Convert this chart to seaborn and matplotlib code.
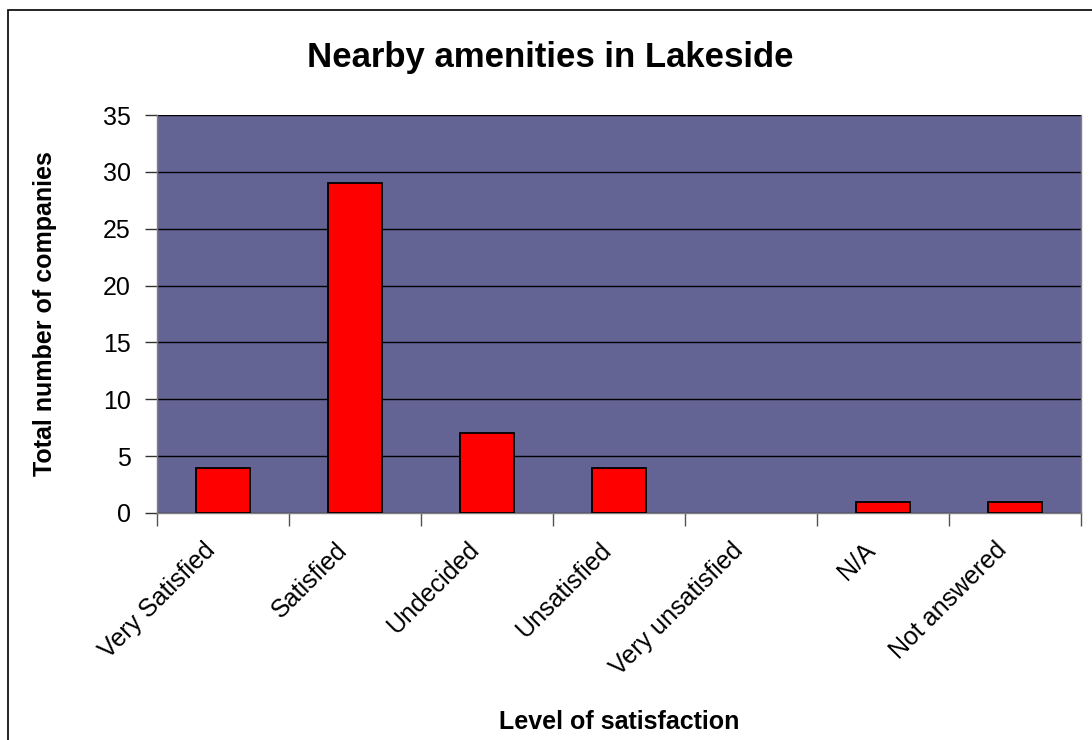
import matplotlib
matplotlib.use("Agg")
import matplotlib.pyplot as plt
import matplotlib.transforms as mtransforms
import seaborn as sns
import pandas as pd
import numpy as np

categories = ["Very Satisfied", "Satisfied", "Undecided", "Unsatisfied",
              "Very unsatisfied", "N/A", "Not answered"]
counts = [4, 29, 7, 4, 0, 1, 1]
y_ticks = [0, 5, 10, 15, 20, 25, 30, 35]

df = pd.DataFrame({"level": categories, "count": counts})

sns.set_theme(style="white")
plt.rcParams['font.family'] = ['Liberation Sans', 'DejaVu Sans']
plt.rcParams['text.color'] = 'black'
plt.rcParams['axes.labelcolor'] = 'black'
plt.rcParams['xtick.color'] = 'black'
plt.rcParams['ytick.color'] = 'black'

fig = plt.figure(figsize=(10.92, 7.40), dpi=100)
ax = fig.add_axes([157/1092, 1 - 513/740, (1081-157)/1092, (513-115)/740])
ax.set_facecolor("#636394")

sns.barplot(data=df, x="level", y="count", color="red", edgecolor="black",
            linewidth=1.3, width=0.41, saturation=1, ax=ax, zorder=3)
# empty bars draw nothing
for p in ax.patches:
    if p.get_height() == 0:
        p.set_linewidth(0)

ax.set_ylim(0, 35)
ax.set_xlim(-0.5, len(categories) - 0.5)
ax.set_yticks(y_ticks)
ax.yaxis.grid(True, color="black", linewidth=1, zorder=1)
ax.set_axisbelow(True)

ax.tick_params(axis="y", labelsize=18, length=9, width=1, color="#333333",
               left=True, pad=10)
ax.set_xticks(range(len(categories)))
ax.set_xticklabels(categories, rotation=45, ha="right", va="center",
                   rotation_mode="anchor", fontsize=18)
ax.tick_params(axis="x", which="major", length=0, pad=24)
shift = mtransforms.ScaledTranslation(-12/100, 0, fig.dpi_scale_trans)
for lab in ax.get_xticklabels():
    lab.set_transform(lab.get_transform() + shift)
ax.set_xticks(np.arange(-0.5, len(categories), 1), minor=True)
ax.tick_params(axis="x", which="minor", length=9, width=1, color="#555555",
               bottom=True)

for side in ["left", "bottom", "right"]:
    ax.spines[side].set_color("#808080")
    ax.spines[side].set_linewidth(1)
ax.spines["top"].set_visible(False)

ax.set_xlabel("Level of satisfaction", fontsize=18, fontweight="bold")
ax.xaxis.set_label_coords(0.5, -0.495)
ax.set_ylabel("Total number of companies", fontsize=18, fontweight="bold")
ax.yaxis.set_label_coords(-0.108, 0.5)

fig.text(550/1092, 1 - 58/740, "Nearby amenities in Lakeside", fontsize=25,
         fontweight="bold", ha="center", va="center")

border = plt.Rectangle((8/1092, -0.01), 1.02, 1 - 10/740 + 0.01,
                       transform=fig.transFigure, fill=False,
                       edgecolor="black", linewidth=1.2)
fig.patches.append(border)

fig.savefig("out.png", dpi=100)
